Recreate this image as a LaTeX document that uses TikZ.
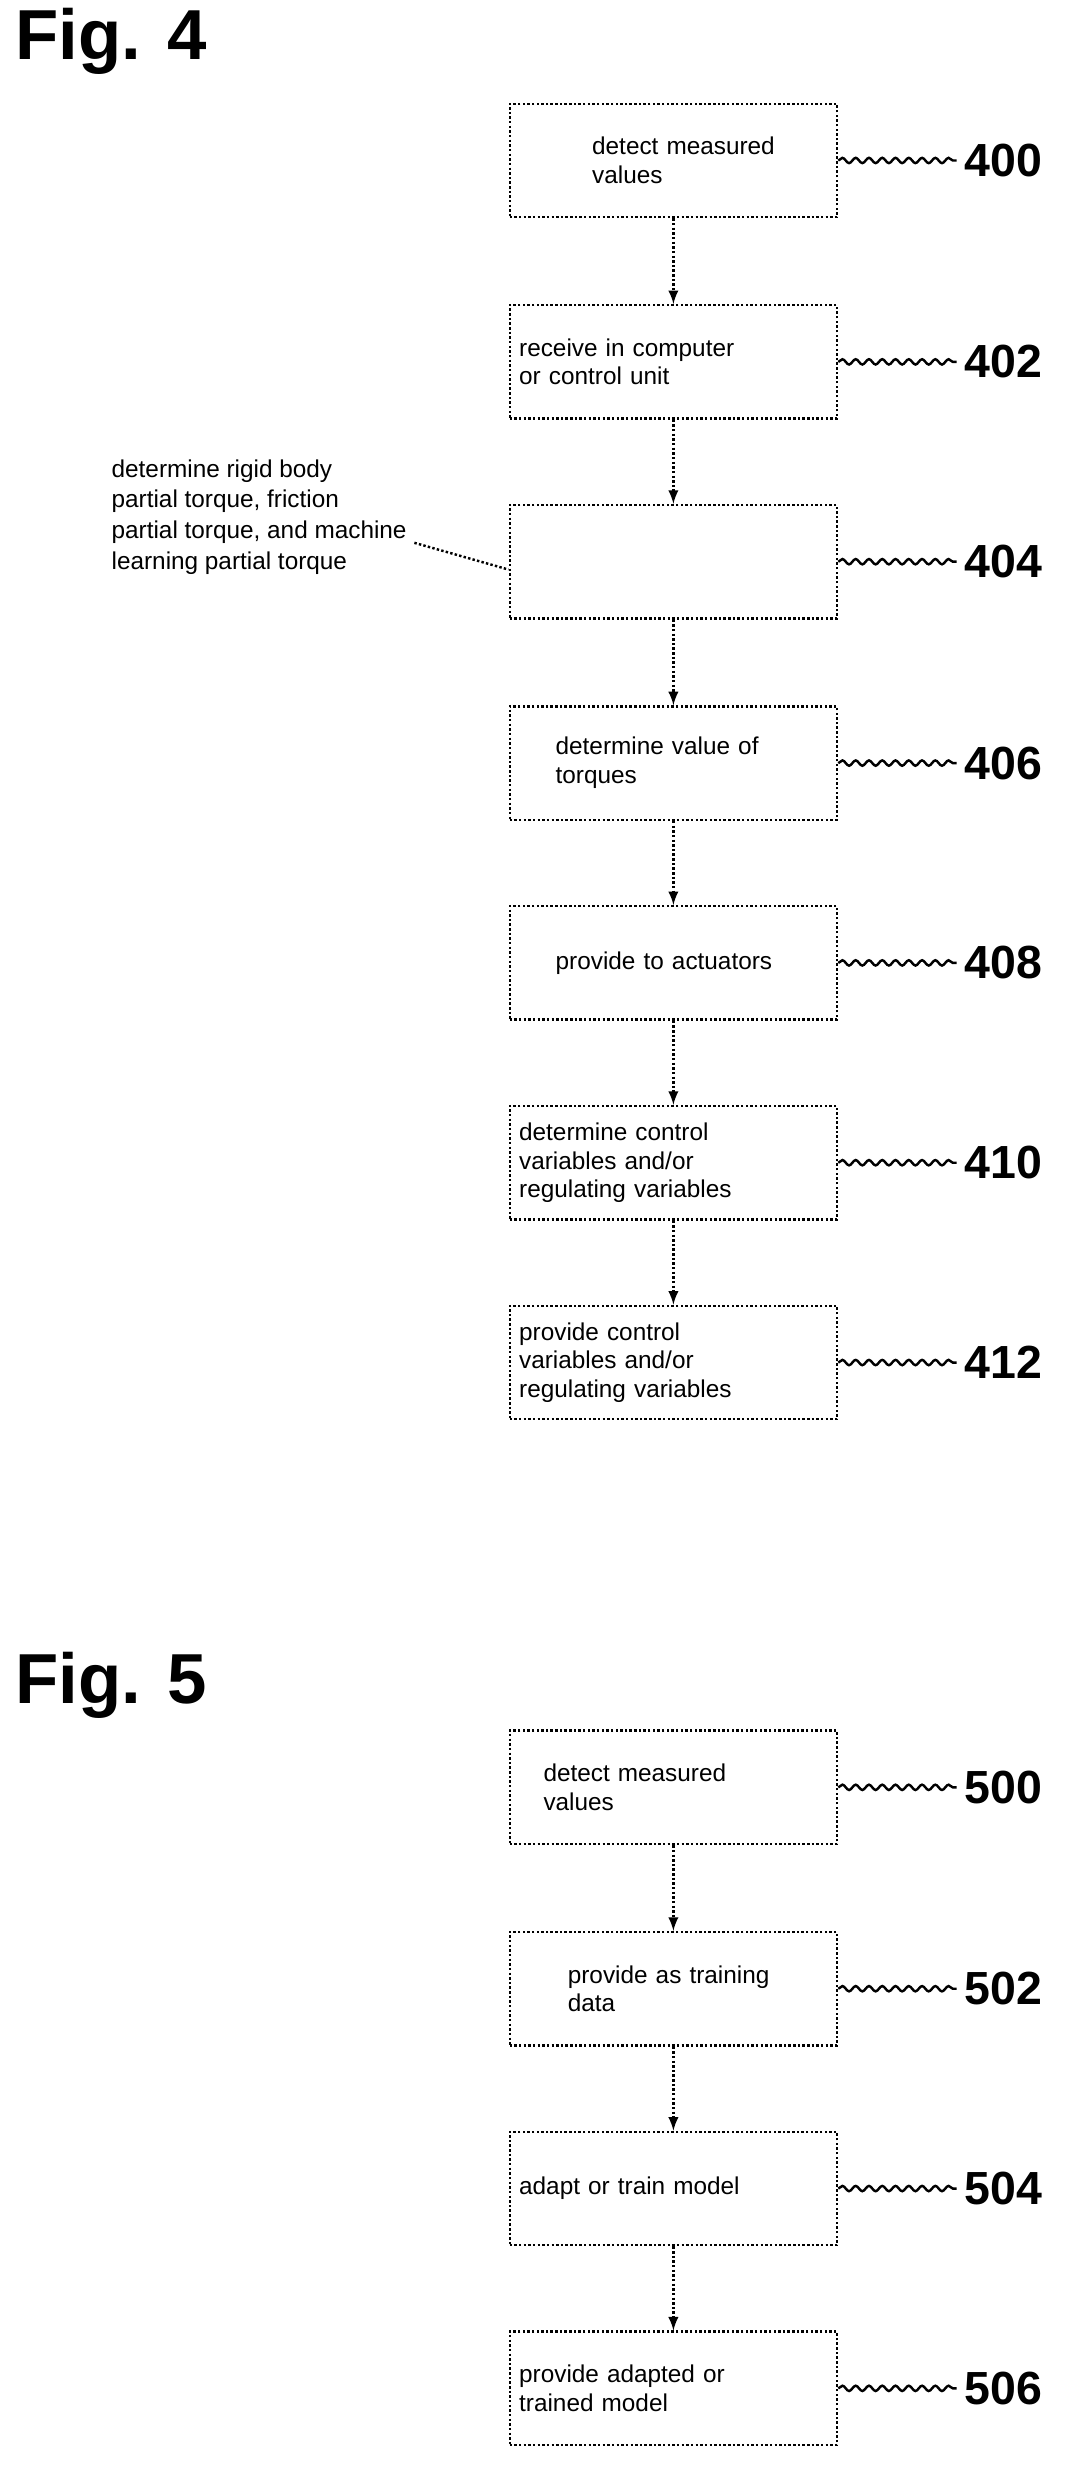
\documentclass[tikz,border=0pt]{standalone}
\usepackage{fontspec}
\setmainfont{Liberation Sans}
\usetikzlibrary{decorations.pathmorphing}
\begin{document}
\begin{tikzpicture}[x=0.025cm,y=-0.025cm,
  box/.style={draw, line width=1.1pt, densely dotted, minimum width=5.2cm, minimum height=1.8cm, text width=4.9cm, align=left, font=\fontsize{11}{13}\selectfont, inner sep=2pt},
  num/.style={font=\fontsize{21}{21}\selectfont\bfseries, anchor=west, inner sep=0pt},
  fig/.style={font=\fontsize{32}{32}\selectfont\bfseries, anchor=north west},
  wave/.style={line width=1.1pt, decorate, decoration={snake, amplitude=1.2pt, segment length=6pt}},
  arr/.style={line width=1.1pt, densely dotted, -latex}]
\useasboundingbox (0,0) rectangle (680,1568);
\node[fig] (f4) at (5,0) {Fig. 4};
\node[fig] (f5) at (5,1045) {Fig. 5};
\node[box] (400) at (428,102) {\hspace*{3em}detect measured\\\hspace*{3em}values};
\node[box] (402) at (428,230) {receive in computer\\or control unit};
\node[box] (404) at (428,357) {};
\node[box] (406) at (428,485) {\hspace*{1.5em}determine value of\\\hspace*{1.5em}torques};
\node[box] (408) at (428,612) {\hspace*{1.5em}provide to actuators\\[0.8em]};
\node[box] (410) at (428,739) {determine control\\variables and/or\\regulating variables};
\node[box] (412) at (428,866) {provide control\\variables and/or\\regulating variables};
\node[box] (500) at (428,1136) {\hspace*{1em}detect measured\\\hspace*{1em}values};
\node[box] (502) at (428,1264) {\hspace*{2em}provide as training\\\hspace*{2em}data};
\node[box] (504) at (428,1391) {adapt or train model\\[1.2em]};
\node[box] (506) at (428,1518) {provide adapted or\\trained model};
\node[anchor=north west, align=left, font=\fontsize{11}{14}\selectfont] (side) at (66,287) {determine rigid body\\partial torque, friction\\partial torque, and machine\\learning partial torque};
\draw[line width=1.1pt, densely dotted] (side.east |- 0,345) -- (404.west |- 0,362);
\foreach \a/\b in {400/402,402/404,404/406,406/408,408/410,410/412,500/502,502/504,504/506}
  \draw[arr] (\a) -- (\b);
\foreach \n in {400,402,404,406,408,410,412,500,502,504,506} {
  \node[num] (n\n) at ([xshift=2cm] \n.east) {\n};
  \draw[wave] (\n.east) -- ([xshift=-0.12cm] n\n.west);
}
\end{tikzpicture}
\end{document}
